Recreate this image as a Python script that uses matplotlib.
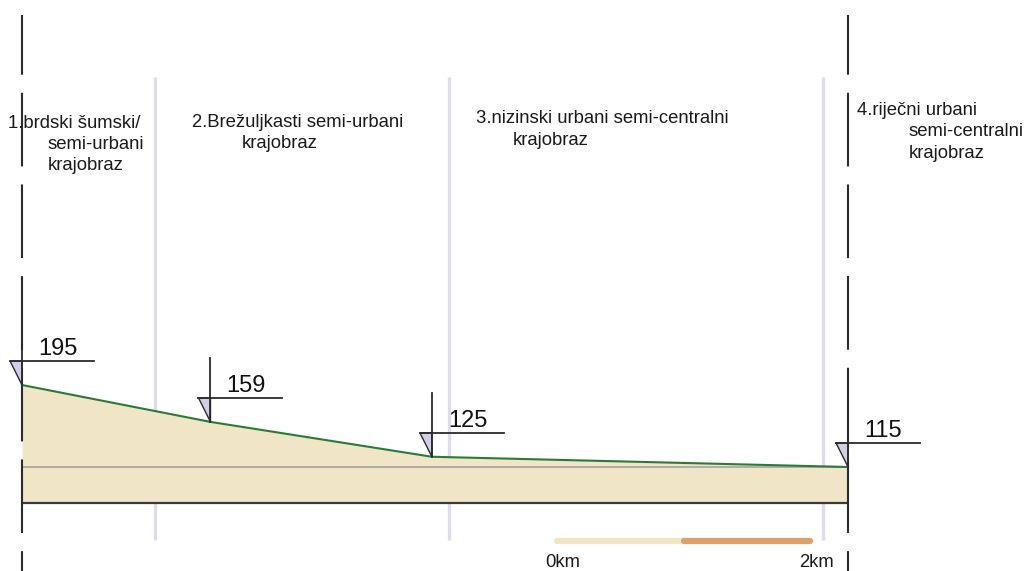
import matplotlib
matplotlib.use("Agg")
import matplotlib.pyplot as plt
import matplotlib.transforms as mtransforms
from matplotlib.patches import Polygon


plt.rcParams["font.family"] = ["Liberation Sans", "DejaVu Sans"]
plt.rcParams["lines.scale_dashes"] = False

# terrain profile: distance along the section (km) and elevation (m)
DISTANCE_KM = [0.0, 1.49, 3.24, 6.53]
ELEVATION_M = [195, 159, 125, 115]
ELEVATION_LABELS = ["195", "159", "125", "115"]

BASE_ELEVATION_M = 80
RIVER_LEVEL_M = 115

# boundaries between landscape zones (km)
ZONE_BOUNDARIES_KM = [1.05, 3.375, 6.33]

ZONE_LABELS = [
    ["1.brdski šumski/", "semi-urbani", "krajobraz"],
    ["2.Brežuljkasti semi-urbani", "krajobraz"],
    ["3.nizinski urbani semi-centralni", "krajobraz"],
    ["4.riječni urbani", "semi-centralni", "krajobraz"],
]

SCALE_BAR_START_KM = 4.23
SCALE_BAR_STEPS_KM = [0, 1, 2]
SCALE_BAR_LABELS = ["0km", "2km"]

# layout (reference pixels)
FIG_W, FIG_H = 1032, 571
PX_PER_KM = 126.5
PX_PER_M = 1.025
ORIGIN_PX = (22, 385)  # where the first profile point sits

ZONE_LABEL_POS = [
    [(8, 128), (48, 149), (48, 170)],
    [(192, 127), (242, 148)],
    [(476, 123), (513, 145)],
    [(857, 115), (909, 136), (909, 158)],
]

GREEN = "#2b7a38"
SAND = "#f0e5c6"
LAVENDER = "#dcdcef"
DARK = "#2b2b2b"


def y_at(py):
    return ELEVATION_M[0] + (ORIGIN_PX[1] - py) / PX_PER_M


def point_transform(fig, ax, x, y):
    return fig.dpi_scale_trans + mtransforms.ScaledTranslation(x, y, ax.transData)


def main():
    fig = plt.figure(figsize=(FIG_W / 100, FIG_H / 100), dpi=100)
    ax = fig.add_axes([0, 0, 1, 1])
    ax.set_axis_off()
    ax.set_xlim(-ORIGIN_PX[0] / PX_PER_KM, (FIG_W - ORIGIN_PX[0]) / PX_PER_KM)
    ax.set_ylim(y_at(FIG_H), y_at(0))

    # ground body
    ax.fill_between(DISTANCE_KM, ELEVATION_M, BASE_ELEVATION_M, color=SAND, lw=0, zorder=1)
    ax.hlines(RIVER_LEVEL_M, DISTANCE_KM[0], DISTANCE_KM[-1], color="#a9a9a9", lw=1.3, zorder=2)
    ax.hlines(BASE_ELEVATION_M, DISTANCE_KM[0], DISTANCE_KM[-1], color="#3a3a3a", lw=1.6, zorder=2)
    ax.plot(DISTANCE_KM, ELEVATION_M, color=GREEN, lw=1.5, zorder=3)

    # zone separators
    ax.vlines(ZONE_BOUNDARIES_KM, y_at(540), y_at(77), color=LAVENDER, lw=2.4, zorder=0)

    # dashed section ends
    for x in (DISTANCE_KM[0], DISTANCE_KM[-1]):
        ax.plot([x, x], [y_at(15), y_at(FIG_H)], color=DARK, lw=1.5,
                linestyle=(10, (53, 13)), zorder=2)

    # elevation markers
    for x, y, label in zip(DISTANCE_KM, ELEVATION_M, ELEVATION_LABELS):
        trans = point_transform(fig, ax, x, y)
        ax.add_patch(Polygon([(0, 0), (-0.12, 0.24), (0, 0.24)], closed=True,
                             facecolor="#cfcfe8", edgecolor=DARK, lw=1,
                             transform=trans, zorder=4))
        ax.plot([0, 0], [0, 0.64], color=DARK, lw=1.3, transform=trans, zorder=4)
        ax.plot([-0.12, 0.72], [0.24, 0.24], color=DARK, lw=1.3, transform=trans, zorder=4)
        ax.text(0.16, 0.30, label, transform=trans, fontsize=17, color="#111111",
                va="baseline", ha="left", zorder=5)

    # zone labels
    for lines, positions in zip(ZONE_LABELS, ZONE_LABEL_POS):
        for text, (px, py) in zip(lines, positions):
            fig.text(px / FIG_W, 1 - py / FIG_H, text, fontsize=13.3,
                     color="#1a1a1a", va="baseline", ha="left")

    # scale bar
    bar_y = y_at(541)
    steps = [SCALE_BAR_START_KM + s for s in SCALE_BAR_STEPS_KM]
    ax.plot(steps[0:2], [bar_y, bar_y], color="#f2e5c3", lw=4.5,
            solid_capstyle="round", zorder=2)
    ax.plot(steps[1:3], [bar_y, bar_y], color="#dca068", lw=4.5,
            solid_capstyle="round", zorder=2)
    for x, label in zip([steps[0], steps[-1]], SCALE_BAR_LABELS):
        trans = mtransforms.offset_copy(ax.transData, fig=fig, x=6, y=-26, units="dots")
        ax.text(x, bar_y, label, transform=trans, fontsize=13.3, color="#1a1a1a",
                ha="center", va="baseline")

    fig.savefig("out.png", dpi=100, facecolor="white")
    plt.close(fig)


if __name__ == "__main__":
    main()
